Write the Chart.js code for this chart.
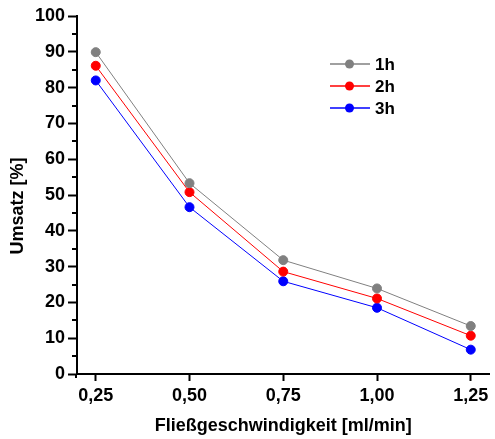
<!DOCTYPE html>
<html>
<head>
<meta charset="utf-8">
<script src="https://cdn.jsdelivr.net/npm/chart.js@4"></script>
<style>
  html, body { margin: 0; padding: 0; background: #fff; }
  #wrap { width: 495px; height: 439px; }
</style>
</head>
<body>
<div id="wrap"><canvas id="chart" width="495" height="439"></canvas></div>
<script>
// flow rate [ml/min]
const flowRates = [0.25, 0.50, 0.75, 1.00, 1.25];
const conv1h = [89.9, 53.3, 31.8, 23.9, 13.4];
const conv2h = [86.1, 50.8, 28.6, 21.1, 10.7];
const conv3h = [82.0, 46.6, 25.9, 18.5, 6.8];
const xTicks = [0.25, 0.50, 0.75, 1.00, 1.25];
const yMinorTicks = [5, 15, 25, 35, 45, 55, 65, 75, 85, 95];
const yTitle = "Umsatz [%]";
const xTitle = "Fließgeschwindigkeit [ml/min]";

const labelFont = { family: "'Liberation Sans', Arial, sans-serif", size: 18, weight: "bold" };

function series(label, values, color) {
    return {
        label: label,
        data: flowRates.map((x, i) => ({ x: x, y: values[i] })),
        borderColor: color,
        backgroundColor: color,
        borderWidth: 1,
        pointRadius: 4.5,
        pointBorderWidth: 1,
        pointHoverRadius: 4.5,
        tension: 0
    };
}

// minor y ticks, y title and legend inside the plot
const extras = {
    id: "extras",
    afterDraw(chart) {
        const ctx = chart.ctx;
        const y = chart.scales.y;
        ctx.save();
        ctx.strokeStyle = "#000";
        ctx.lineWidth = 2;
        yMinorTicks.forEach(v => {
            const py = Math.round(y.getPixelForValue(v));
            ctx.beginPath();
            ctx.moveTo(y.right, py);
            ctx.lineTo(y.right - 5, py);
            ctx.stroke();
        });
        // y axis sticks out a bit below the x axis
        ctx.beginPath();
        ctx.moveTo(y.right - 1, chart.chartArea.bottom);
        ctx.lineTo(y.right - 1, chart.chartArea.bottom + 4);
        ctx.stroke();

        // y title (sits a bit below the middle in the original)
        ctx.fillStyle = "#000";
        ctx.font = "bold 18px 'Liberation Sans', Arial, sans-serif";
        ctx.textAlign = "center";
        ctx.textBaseline = "middle";
        ctx.translate(18, 206);
        ctx.rotate(-Math.PI / 2);
        ctx.fillText(yTitle, 0, 0);
        ctx.setTransform(1, 0, 0, 1, 0, 0);

        const lx = 330, tx = 375;
        ctx.textAlign = "left";
        chart.data.datasets.forEach((ds, i) => {
            const ly = 64 + i * 22;
            ctx.strokeStyle = ds.borderColor;
            ctx.lineWidth = 1.5;
            ctx.beginPath();
            ctx.moveTo(lx, ly);
            ctx.lineTo(lx + 40, ly);
            ctx.stroke();
            ctx.fillStyle = ds.backgroundColor;
            ctx.beginPath();
            ctx.arc(lx + 19.5, ly, 4.5, 0, Math.PI * 2);
            ctx.fill();
            ctx.fillStyle = "#000";
            ctx.font = "bold 17px 'Liberation Sans', Arial, sans-serif";
            ctx.fillText(ds.label, tx, ly + 1);
        });
        ctx.restore();
    }
};

let ctx = document.getElementById("chart").getContext("2d");

let chart = new Chart(ctx, {
    type: "line",
    data: {
        datasets: [
            series("1h", conv1h, "rgb(128, 128, 128)"),
            series("2h", conv2h, "rgb(255, 0, 0)"),
            series("3h", conv3h, "rgb(0, 0, 255)")
        ]
    },
    options: {
        responsive: false,
        animation: false,
        layout: { padding: { top: 16, right: 0, left: 0, bottom: 0 } },
        plugins: {
            legend: { display: false },
            tooltip: { enabled: false }
        },
        scales: {
            x: {
                type: "linear",
                min: 0.2,
                max: 1.3,
                afterBuildTicks: axis => { axis.ticks = xTicks.map(v => ({ value: v })); },
                afterFit: axis => { axis.height = 65; },
                border: { display: true, color: "#000", width: 2 },
                grid: { drawOnChartArea: false, drawTicks: true, tickLength: 7, tickWidth: 2, tickColor: "#000" },
                ticks: {
                    color: "#000",
                    font: labelFont,
                    padding: 4,
                    maxRotation: 0,
                    callback: v => v.toFixed(2).replace(".", ",")
                },
                title: {
                    display: true,
                    text: xTitle,
                    color: "#000",
                    font: labelFont,
                    padding: { top: 0, bottom: 2 }
                }
            },
            y: {
                min: 0,
                max: 100,
                afterFit: axis => { axis.width = 77; },
                border: { display: true, color: "#000", width: 2 },
                grid: { drawOnChartArea: false, drawTicks: true, tickLength: 9, tickWidth: 2, tickColor: "#000" },
                ticks: {
                    stepSize: 10,
                    color: "#000",
                    font: labelFont,
                    padding: 3
                },
                title: { display: false }
            }
        }
    },
    plugins: [extras]
});
</script>
</body>
</html>
